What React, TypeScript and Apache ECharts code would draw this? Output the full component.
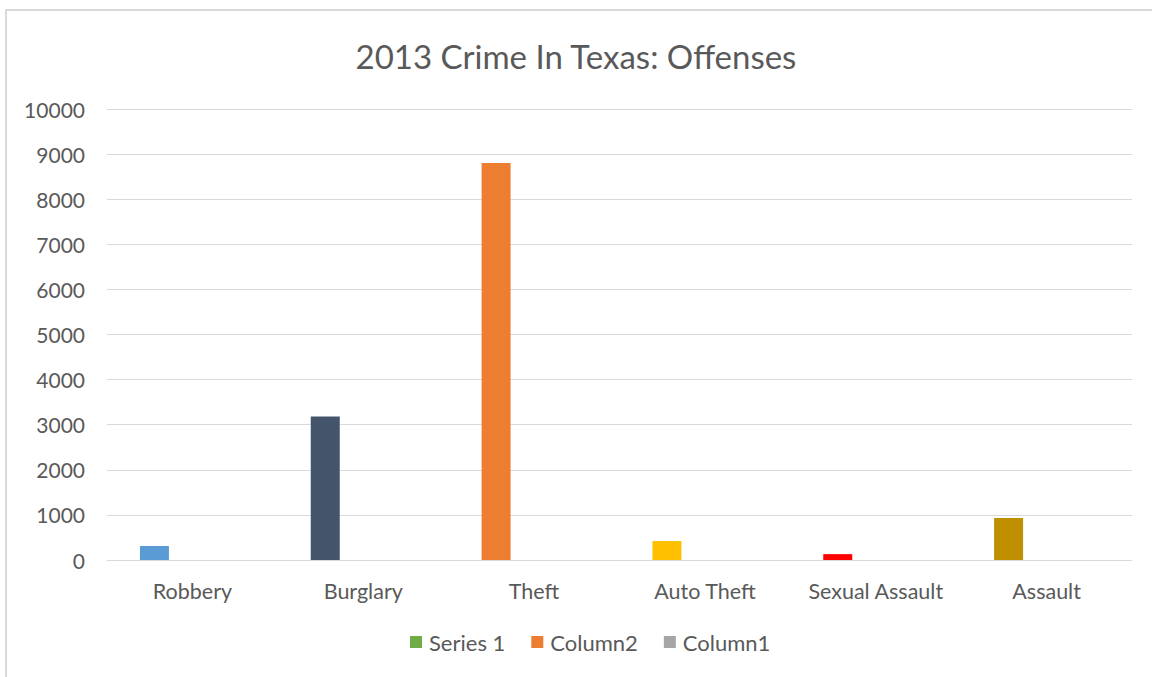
import React, { useEffect, useRef } from "react";
import * as echarts from "echarts";

const categories = ["Robbery", "Burglary", "Theft", "Auto Theft", "Sexual Assault", "Assault"];
const series1Values = [310, 3180, 8800, 420, 130, 930];
const column2Values: (number | null)[] = [null, null, null, null, null, null];
const column1Values: (number | null)[] = [null, null, null, null, null, null];
const barColors = ["#5B9BD5", "#44546A", "#ED7D31", "#FFC000", "#FF0000", "#BF8F00"];
const seriesNames = ["Series 1", "Column2", "Column1"];
const legendColors = ["#70AD47", "#ED7D31", "#A5A5A5"];
const title = "2013 Crime In Texas: Offenses";

const FONT = "Lato, 'Open Sans', sans-serif";

export default function App() {
  const ref = useRef<HTMLDivElement>(null);
  useEffect(() => {
    if (!ref.current) return;
    const chart = echarts.init(ref.current, null, { renderer: "svg" });
    chart.setOption({
      animation: false,
      backgroundColor: "#ffffff",
      title: {
        text: title,
        left: "center",
        top: 34,
        textStyle: { fontFamily: FONT, fontSize: 33, fontWeight: "normal", color: "#595959" },
      },
      legend: {
        bottom: 19,
        left: 405,
        itemWidth: 12,
        itemHeight: 12,
        itemGap: 26,
        icon: "rect",
        textStyle: { fontFamily: FONT, fontSize: 22, color: "#595959", padding: [0, 0, 0, 2] },
        data: seriesNames.map((n, i) => ({ name: n, itemStyle: { color: legendColors[i] } })),
      },
      grid: { left: 107, right: 20, top: 109, bottom: 117 },
      xAxis: {
        type: "category",
        data: categories,
        axisLine: { lineStyle: { color: "#d9d9d9", width: 1 } },
        axisTick: { show: false },
        axisLabel: { fontFamily: FONT, fontSize: 21.5, color: "#595959", margin: 20, interval: 0 },
      },
      yAxis: {
        type: "value",
        min: 0,
        max: 10000,
        interval: 1000,
        axisLine: { show: false },
        axisTick: { show: false },
        splitLine: { lineStyle: { color: "#d9d9d9", width: 1 } },
        axisLabel: {
          fontFamily: FONT,
          fontSize: 21,
          color: "#595959",
          margin: 22,
          formatter: (v: number) => String(v),
        },
      },
      graphic: [
        {
          type: "rect",
          shape: { x: 6, y: 10, width: 1200, height: 700 },
          style: { fill: "none", stroke: "#d9d9d9", lineWidth: 2 },
          silent: true,
        },
      ],
      series: [
        {
          name: seriesNames[0],
          type: "bar",
          barWidth: 29,
          barGap: "31%",
          itemStyle: { color: legendColors[0] },
          data: series1Values.map((v, i) => ({ value: v, itemStyle: { color: barColors[i] } })),
        },
        {
          name: seriesNames[1],
          type: "bar",
          barWidth: 29,
          barGap: "31%",
          itemStyle: { color: legendColors[1] },
          data: column2Values,
        },
        {
          name: seriesNames[2],
          type: "bar",
          barWidth: 29,
          barGap: "31%",
          itemStyle: { color: legendColors[2] },
          data: column1Values,
        },
      ],
    });
    return () => chart.dispose();
  }, []);
  return (
    <div
      ref={ref}
      style={{ position: "absolute", left: 0, top: 0, width: 1152, height: 677 }}
    />
  );
}
